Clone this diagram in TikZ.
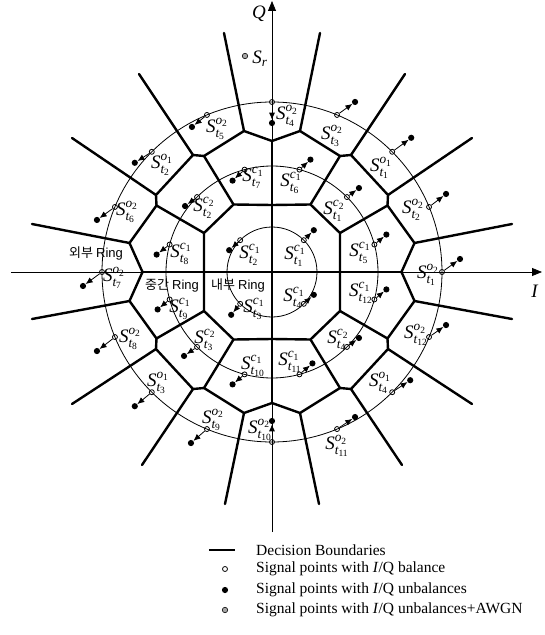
\documentclass[tikz,border=0pt]{standalone}
\usepackage{amsmath}
\usepackage{fontspec}
\setmainfont{Liberation Serif}
\newfontfamily\krfont{Noto Sans CJK KR}
\newfontfamily\arialfont{Liberation Sans}
\usetikzlibrary{arrows.meta,calc}
\newcommand{\symlab}[3]{$\textit{S}^{\textit{#1}_{\textrm{#2}}}_{\textit{t}_{\textrm{#3}}}$}
\newcommand{\ringlab}[1]{{\krfont #1} {\arialfont Ring}}
\begin{document}
\begin{tikzpicture}[x=1pt,y=1pt,
 boundary/.style={line width=2.4pt, line join=round, line cap=round},
 ringline/.style={line width=0.8pt},
 axisline/.style={line width=0.8pt},
 balpt/.style={circle, draw, line width=0.8pt, inner sep=0pt, minimum size=5pt},
 unbpt/.style={circle, fill=black, inner sep=0pt, minimum size=6.2pt},
 awgnpt/.style={circle, draw, fill=gray!70, line width=0.6pt, inner sep=0pt, minimum size=5.4pt},
 sigarrow/.style={line width=0.8pt, -{Latex[length=7pt,width=6pt]}},
 symlbl/.style={inner sep=0pt, font=\fontsize{19}{21}\selectfont},
 ringlbl/.style={inner sep=0pt, font=\fontsize{13}{15}\selectfont},
 axlbl/.style={inner sep=0pt, font=\fontsize{19}{21}\selectfont\itshape},
 legtext/.style={anchor=west, inner sep=0pt, font=\fontsize{15.5}{18}\selectfont}]
\useasboundingbox (-272,-363) rectangle (273,272);

% rings
\draw[ringline] (0,0) circle[radius=45];
\draw[ringline] (0,0) circle[radius=106];
\draw[ringline] (0,0) circle[radius=170];

% axes
\coordinate (qbot) at (0,-260);
\coordinate (qtop) at (0,271);
\coordinate (ileft) at (-261,0);
\coordinate (iright) at (270,0);
\draw[axisline, -{Triangle[length=10pt,width=8pt]}] (qbot) -- (qtop);
\draw[axisline, -{Triangle[length=10pt,width=8pt]}] (ileft) -- (iright);
\node[axlbl] (qlab) at (-13,258) {Q};
\node[axlbl] (ilab) at (262.5,-19.5) {I};

% decision boundaries
\draw[boundary] (0,-131) -- (0,131);
\draw[boundary] (-129.5,0) -- (129.5,0);
\foreach \sx/\sy/\ax/\ay/\bx/\by/\cx/\cy/\ex/\ey in
  {1/1/48/239/133/198/200/134/240/48,
   -1/1/48/239/133/198/200/134/240/48,
   -1/-1/47/232/130/193/200/132/240/47,
   1/-1/47/232/130/193/200/132/240/47}{
 \begin{scope}[xscale=\sx,yscale=\sy]
  \draw[boundary] (0,67) -- (38.5,67.5) -- (68,39) -- (68,0);
  \draw[boundary] (0,131) -- (28,141) -- (68,116) -- (79,117) -- (116,77)
     -- (115.5,66.5) -- (142.5,29) -- (129.5,0);
  \draw[boundary] (38.5,67.5) -- (68,116);
  \draw[boundary] (68,39) -- (115.5,66.5);
  \draw[boundary] (28,141) -- (\ax,\ay);
  \draw[boundary] (79,117) -- (\bx,\by);
  \draw[boundary] (116,77) -- (\cx,\cy);
  \draw[boundary] (142.5,29) -- (\ex,\ey);
 \end{scope}
}

% outer ring points
\foreach \a/\ux/\uy [count=\i] in {0/18/13, 22.5/17/13, 45/19/14, 67.5/18/13,
   90/0/-21, 112.5/-15/-12, 135/-17/-11, 157.5/-18/-13, 180/-19/-14,
   202.5/-18/-14, 225/-17/-14, 247.5/-16/-14, 270/0/21, 292.5/18/12,
   315/18/12, 337.5/17/12}{
 \node[balpt] (bo\i) at (\a:170) {};
 \node[unbpt] (uo\i) at ($(bo\i)+(\ux,\uy)$) {};
 \draw[sigarrow] (bo\i) -- (uo\i);
}
% middle ring points
\foreach \a/\ux/\uy [count=\i] in {15/12/10, 45/12/9, 75/11/10, 105/-12/-11,
   135/-12/-9, 165/-13/-10, 195/-12/-10, 225/-13/-9, 255/-12/-10,
   285/13/11, 315/12/9, 345/12/10}{
 \node[balpt] (bm\i) at (\a:106) {};
 \node[unbpt] (um\i) at ($(bm\i)+(\ux,\uy)$) {};
 \draw[sigarrow] (bm\i) -- (um\i);
}
% inner ring points
\foreach \a/\ux/\uy [count=\i] in {45/10/10, 135/-11/-10, 225/-9/-11, 315/10/9}{
 \node[balpt] (bi\i) at (\a:45) {};
 \node[unbpt] (ui\i) at ($(bi\i)+(\ux,\uy)$) {};
 \draw[sigarrow] (bi\i) -- (ui\i);
}

% received point
\node[awgnpt] (sr) at (-27,216) {};
\node[symlbl] (srl) at (-12,213) {$\textit{S}_{\textit{r}}$};

% outer labels
\node[symlbl] (lo1) at (156,-3) {\symlab{o}{2}{1}};
\node[symlbl] (lo2) at (141,62) {\symlab{o}{2}{2}};
\node[symlbl] (lo3) at (109,104) {\symlab{o}{1}{1}};
\node[symlbl] (lo4) at (60,136) {\symlab{o}{2}{3}};
\node[symlbl] (lo5) at (15,156) {\symlab{o}{2}{4}};
\node[symlbl] (lo6) at (-55,143) {\symlab{o}{2}{5}};
\node[symlbl] (lo7) at (-110,107) {\symlab{o}{1}{2}};
\node[symlbl] (lo8) at (-145,60) {\symlab{o}{2}{6}};
\node[symlbl] (lo9) at (-158,-6) {\symlab{o}{2}{7}};
\node[symlbl] (lo10) at (-142,-67) {\symlab{o}{2}{8}};
\node[symlbl] (lo11) at (-114,-111) {\symlab{o}{1}{3}};
\node[symlbl] (lo12) at (-59,-148) {\symlab{o}{2}{9}};
\node[symlbl] (lo13) at (-12,-158) {\symlab{o}{2}{10}};
\node[symlbl] (lo14) at (65,-174) {\symlab{o}{2}{11}};
\node[symlbl] (lo15) at (108,-111) {\symlab{o}{1}{4}};
\node[symlbl] (lo16) at (144,-63) {\symlab{o}{2}{12}};
% middle labels
\node[symlbl] (lm1) at (88,19) {\symlab{c}{1}{5}};
\node[symlbl] (lm2) at (62,61) {\symlab{c}{2}{1}};
\node[symlbl] (lm3) at (19,89) {\symlab{c}{1}{6}};
\node[symlbl] (lm4) at (-19,94) {\symlab{c}{1}{7}};
\node[symlbl] (lm5) at (-68,64) {\symlab{c}{2}{2}};
\node[symlbl] (lm6) at (-91,18) {\symlab{c}{1}{8}};
\node[symlbl] (lm7) at (-92,-37) {\symlab{c}{1}{9}};
\node[symlbl] (lm8) at (-67,-68) {\symlab{c}{2}{3}};
\node[symlbl] (lm9) at (-19,-94) {\symlab{c}{1}{10}};
\node[symlbl] (lm10) at (18,-90) {\symlab{c}{1}{11}};
\node[symlbl] (lm11) at (66,-68) {\symlab{c}{2}{4}};
\node[symlbl] (lm12) at (89,-21) {\symlab{c}{1}{12}};
% inner labels
\node[symlbl] (li1) at (23,16) {\symlab{c}{1}{1}};
\node[symlbl] (li2) at (-22,17) {\symlab{c}{1}{2}};
\node[symlbl] (li3) at (-18,-37) {\symlab{c}{1}{3}};
\node[symlbl] (li4) at (22,-26) {\symlab{c}{1}{4}};

% ring names
\node[ringlbl] (rout) at (-176,18.5) {\ringlab{외부}};
\node[ringlbl] (rmid) at (-100,-13.5) {\ringlab{중간}};
\node[ringlbl] (rin) at (-34,-13.5) {\ringlab{내부}};

% legend
\coordinate (lga) at (-63,-278);
\coordinate (lgb) at (-37,-278);
\draw[line width=2.4pt] (lga) -- (lgb);
\node[legtext] (lt1) at (-16,-278) {Decision Boundaries};
\node[balpt] (lp2) at (-47,-297) {};
\node[legtext] (lt2) at (-16,-297) {Signal points with \textit{I}/Q balance};
\node[unbpt] (lp3) at (-47,-318) {};
\node[legtext] (lt3) at (-16,-318) {Signal points with \textit{I}/Q unbalances};
\node[awgnpt] (lp4) at (-47,-338) {};
\node[legtext] (lt4) at (-16,-338) {Signal points with \textit{I}/Q unbalances+AWGN};
\end{tikzpicture}
\end{document}
